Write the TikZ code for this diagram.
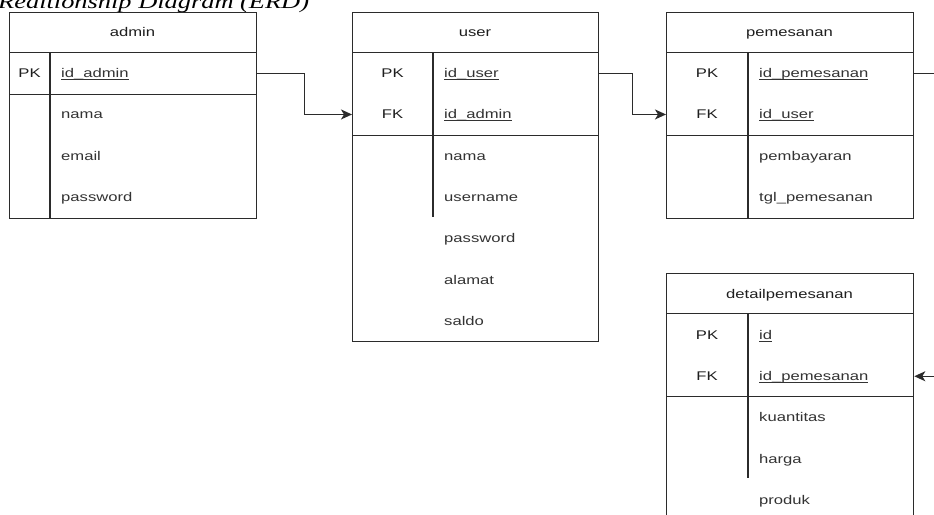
\documentclass[tikz,border=0pt]{standalone}
\usepackage{fontspec}
\setmainfont{Liberation Sans}
\newfontfamily\erdfont[FakeStretch=1.32]{Liberation Sans}
\newfontfamily\titlefont[FakeStretch=1.32]{Liberation Serif}
\usetikzlibrary{arrows.meta,calc}
\definecolor{ln}{HTML}{2B2B2B}
\definecolor{tx}{HTML}{1E1E1E}
\definecolor{fx}{HTML}{333333}
\newcommand\ulx[1]{\setbox0\hbox{#1}\rlap{\rule[-2.6pt]{\wd0}{1pt}}\box0}
\tikzset{
  frame/.style={draw=ln, line width=1.3pt, rectangle, inner sep=0pt, anchor=north west},
  divl/.style={draw=ln, line width=1.3pt},
  hd/.style={font=\erdfont\fontsize{12.6}{15}\selectfont, text=tx, anchor=base, inner sep=0pt},
  key/.style={font=\erdfont\fontsize{12.6}{15}\selectfont, text=tx, anchor=base, inner sep=0pt},
  fld/.style={font=\erdfont\fontsize{12.6}{15}\selectfont, text=fx, anchor=base west, inner sep=0pt},
  conn/.style={draw=ln, line width=1.3pt, -{Stealth[length=11pt,width=10pt,inset=3pt]}}
}
\begin{document}
\begin{tikzpicture}[x=1pt,y=-1pt]
\useasboundingbox (0,0) rectangle (934,514);
\clip (0,0) rectangle (934,514);
\fill[white] (0,0) rectangle (934,514);

% title
\node[anchor=base west, inner sep=0pt, font=\titlefont\itshape\fontsize{20}{24}\selectfont] (title) at (-2,9) {Realtionship Diagram (ERD)};

% ---------- admin ----------
\node[frame, minimum width=247pt, minimum height=206pt] (admin) at (9,12) {};
\node[frame, minimum width=247pt, minimum height=40pt] (adminH) at (9,12) {};
\node[frame, minimum width=247pt, minimum height=42pt] (adminK) at (9,52) {};
\draw[divl] ($(adminK.north west)+(41,0)$) -- ($(admin.south west)+(41,0)$);
\node[hd] (adminT) at (132.5,36.7) {admin};
\node[key] (adminPK) at (29.5,77.5) {PK};
\node[fld] (adminF1) at (61,77.5) {\ulx{id\_admin}};
\node[fld] (adminF2) at (61,118.9) {nama};
\node[fld] (adminF3) at (61,160.2) {email};
\node[fld] (adminF4) at (61,201.5) {password};

% ---------- user ----------
\node[frame, minimum width=246pt, minimum height=329pt] (user) at (352,12) {};
\node[frame, minimum width=246pt, minimum height=40pt] (userH) at (352,12) {};
\node[frame, minimum width=246pt, minimum height=83pt] (userK) at (352,52) {};
\draw[divl] ($(userK.north west)+(81,0)$) -- ++(0,165);
\node[hd] (userT) at (475,36.7) {user};
\node[key] (userPK) at (392.5,77.5) {PK};
\node[key] (userFK) at (392.5,118.8) {FK};
\node[fld] (userF1) at (444,77.5) {\ulx{id\_user}};
\node[fld] (userF2) at (444,118.8) {\ulx{id\_admin}};
\node[fld] (userF3) at (444,160.1) {nama};
\node[fld] (userF4) at (444,201.4) {username};
\node[fld] (userF5) at (444,242.7) {password};
\node[fld] (userF6) at (444,284.0) {alamat};
\node[fld] (userF7) at (444,325.3) {saldo};

% ---------- pemesanan ----------
\node[frame, minimum width=247pt, minimum height=206pt] (pem) at (666,12) {};
\node[frame, minimum width=247pt, minimum height=40pt] (pemH) at (666,12) {};
\node[frame, minimum width=247pt, minimum height=83pt] (pemK) at (666,52) {};
\draw[divl] ($(pemK.north west)+(82,0)$) -- ($(pem.south west)+(82,0)$);
\node[hd] (pemT) at (789.5,36.7) {pemesanan};
\node[key] (pemPK) at (707,77.5) {PK};
\node[key] (pemFK) at (707,118.8) {FK};
\node[fld] (pemF1) at (759,77.5) {\ulx{id\_pemesanan}};
\node[fld] (pemF2) at (759,118.8) {\ulx{id\_user}};
\node[fld] (pemF3) at (759,160.1) {pembayaran};
\node[fld] (pemF4) at (759,201.4) {tgl\_pemesanan};

% ---------- detailpemesanan ----------
\node[frame, minimum width=247pt, minimum height=267pt] (det) at (666,273) {};
\node[frame, minimum width=247pt, minimum height=40pt] (detH) at (666,273) {};
\node[frame, minimum width=247pt, minimum height=83pt] (detK) at (666,313) {};
\draw[divl] ($(detK.north west)+(82,0)$) -- ++(0,165);
\node[hd] (detT) at (789.5,298.3) {detailpemesanan};
\node[key] (detPK) at (707,339.3) {PK};
\node[key] (detFK) at (707,380.6) {FK};
\node[fld] (detF1) at (759,339.3) {\ulx{id}};
\node[fld] (detF2) at (759,380.6) {\ulx{id\_pemesanan}};
\node[fld] (detF3) at (759,421.9) {kuantitas};
\node[fld] (detF4) at (759,463.2) {harga};
\node[fld] (detF5) at (759,504.5) {produk};

% ---------- connectors ----------
\draw[conn] (admin.east |- adminPK) -- ++(47,0) |- (user.west |- userFK);
\draw[conn] (user.east |- userPK) -- ++(33,0) |- (pem.west |- pemFK);
\draw[conn] (pem.east |- pemPK) -- ++(40,0) |- (det.east |- detFK);
\end{tikzpicture}
\end{document}
